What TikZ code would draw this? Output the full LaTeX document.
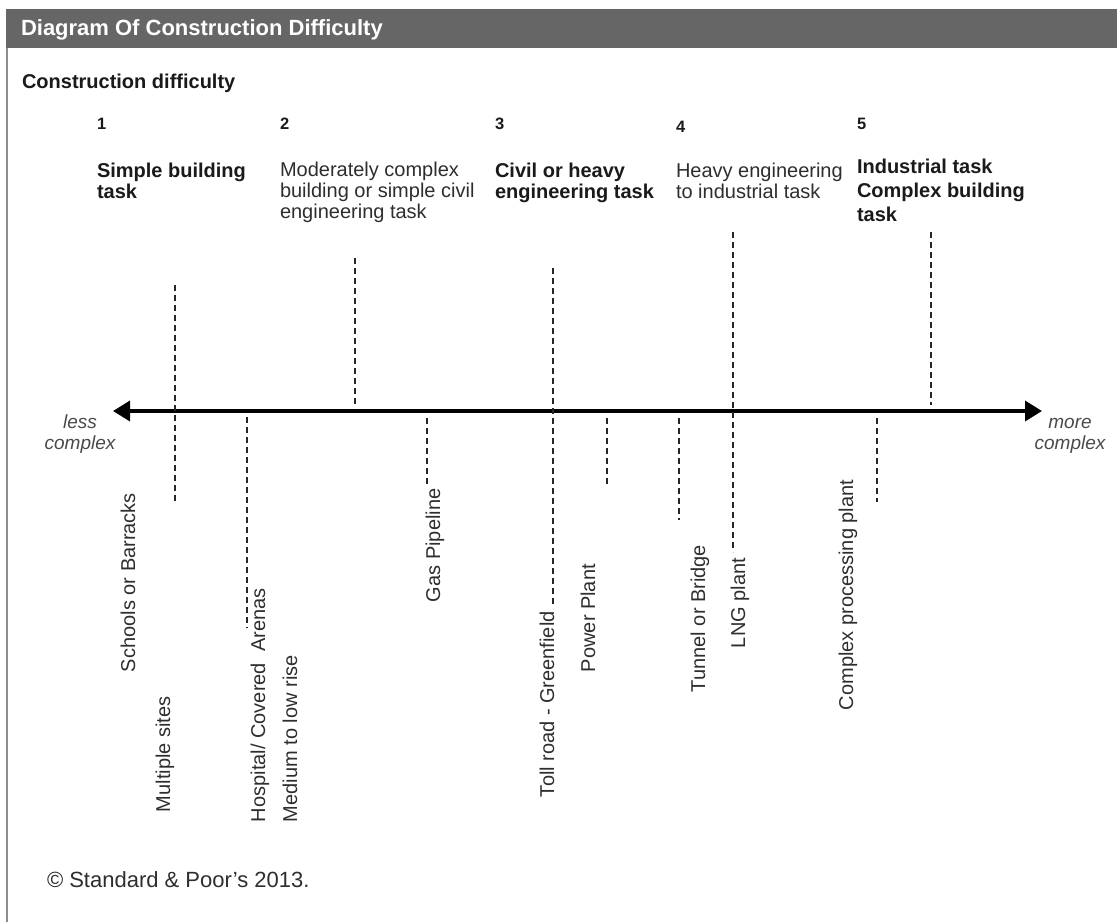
\documentclass[tikz,border=0pt]{standalone}
\usepackage{fontspec}
\setmainfont{Liberation Sans}
\usetikzlibrary{arrows.meta}
\definecolor{barcol}{HTML}{666666}
\definecolor{txt}{HTML}{2E2E2E}
\definecolor{boldtxt}{HTML}{1A1A1A}
\definecolor{bordercol}{HTML}{8C8C8C}
\definecolor{sidecol}{HTML}{4A4A4A}
\begin{document}
\begin{tikzpicture}[x=1pt,y=-1pt,
  every node/.style={inner sep=0pt, outer sep=0pt},
  titlefont/.style={font=\fontsize{22}{24}\selectfont\bfseries, text=white, anchor=base west},
  subtitle/.style={font=\fontsize{20}{22}\selectfont\bfseries, text=boldtxt, anchor=base west},
  numlabel/.style={font=\fontsize{16.5}{18}\selectfont\bfseries, text=boldtxt, anchor=base west},
  boldhead/.style={font=\fontsize{20}{21}\selectfont\bfseries, text=boldtxt, align=left, anchor=base west},
  normhead/.style={font=\fontsize{20}{21}\selectfont, text=txt, align=left, anchor=base west},
  itemlabel/.style={font=\fontsize{20}{22}\selectfont, text=txt, rotate=90, anchor=west},
  sidelabel/.style={font=\fontsize{19}{21}\selectfont\itshape, text=sidecol, align=center, anchor=base},
  tickline/.style={draw=black!85, line width=1.2pt, dash pattern=on 6pt off 4pt},
  axisline/.style={draw=black, line width=3.5pt, {Triangle[length=17pt,width=20pt]}-{Triangle[length=17pt,width=20pt]}},
  note/.style={font=\fontsize{22}{24}\selectfont, text=txt, anchor=base west}
]
\useasboundingbox (0,0) rectangle (1117,922);
\fill[white] (0,0) rectangle (1117,922);
% frame
\fill[barcol] (6,9) rectangle (1117,48);
\draw[bordercol, line width=2pt] (7,48) -- (7,922);
\node[titlefont] (title) at (21,35) {Diagram Of Construction Difficulty};
\node[subtitle] (sub) at (22,88) {Construction difficulty};

% level numbers
\node[numlabel] (n1) at (97,129) {1};
\node[numlabel] (n2) at (280,129) {2};
\node[numlabel] (n3) at (495,129) {3};
\node[numlabel] (n4) at (676,132) {4};
\node[numlabel] (n5) at (857,129) {5};

% level headings (anchor = baseline of the last line)
\node[boldhead] (h1) at (97,198) {Simple building\\task};
\node[normhead] (h2) at (280,218) {Moderately complex\\building or simple civil\\engineering task};
\node[boldhead] (h3) at (495,198) {Civil or heavy\\engineering task};
\node[normhead] (h4) at (676,198) {Heavy engineering\\to industrial task};
\node[boldhead, font=\fontsize{20}{24}\selectfont\bfseries] (h5) at (857,221) {Industrial task\\Complex building\\task};

% axis
\coordinate (axL) at (113,411);
\coordinate (axR) at (1042,411);
\draw[axisline] (axR) -- (axL);
\node[sidelabel] (less) at (80,449) {less\\complex};
\node[sidelabel] (more) at (1070,449) {more\\complex};

% dashed ticks above / crossing the axis
\coordinate (a1t) at (175,285); \coordinate (a1b) at (175,502);
\coordinate (a2t) at (355,258); \coordinate (a2b) at (355,407);
\coordinate (a3t) at (553,268); \coordinate (a3b) at (553,604);
\coordinate (a4t) at (733,232); \coordinate (a4b) at (733,552);
\coordinate (a5t) at (931,232); \coordinate (a5b) at (931,405);
\draw[tickline] (a1t) -- (a1b);
\draw[tickline] (a2t) -- (a2b);
\draw[tickline] (a3t) -- (a3b);
\draw[tickline] (a4t) -- (a4b);
\draw[tickline] (a5t) -- (a5b);

% dashed ticks below the axis
\coordinate (b1t) at (247,417); \coordinate (b1b) at (247,628);
\coordinate (b2t) at (427,418); \coordinate (b2b) at (427,485);
\coordinate (b3t) at (607,418); \coordinate (b3b) at (607,485);
\coordinate (b4t) at (679,418); \coordinate (b4b) at (679,520);
\coordinate (b5t) at (877,418); \coordinate (b5b) at (877,502);
\draw[tickline] (b1t) -- (b1b);
\draw[tickline] (b2t) -- (b2b);
\draw[tickline] (b3t) -- (b3b);
\draw[tickline] (b4t) -- (b4b);
\draw[tickline] (b5t) -- (b5b);

% project labels (rotated)
\node[itemlabel] (schools) at (128,672) {Schools or Barracks};
\node[itemlabel] (multi) at (165,812) {Multiple sites};
\node[itemlabel] (hosp) at (260,822) {Hospital/ Covered~ Arenas};
\node[itemlabel] (medium) at (290,822) {Medium to low rise};
\node[itemlabel] (gas) at (435,602) {Gas Pipeline};
\node[itemlabel] (toll) at (547,797) {Toll road - Greenfield};
\node[itemlabel] (power) at (588,672) {Power Plant};
\node[itemlabel] (tunnel) at (700,692) {Tunnel or Bridge};
\node[itemlabel] (lng) at (740,648) {LNG plant};
\node[itemlabel] (cpp) at (848,710) {Complex processing plant};

% source
\node[note] (src) at (47,887) {© Standard \& Poor’s 2013.};
\end{tikzpicture}
\end{document}
